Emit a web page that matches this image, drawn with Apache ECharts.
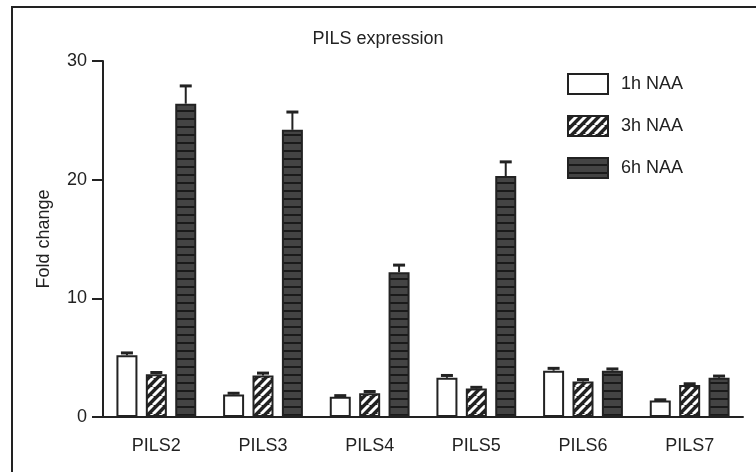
<!DOCTYPE html>
<html>
<head>
<meta charset="utf-8">
<script src="https://cdn.jsdelivr.net/npm/echarts@6/dist/echarts.min.js"></script>
<style>
  html, body { margin: 0; padding: 0; background: #fff; }
  #chart { width: 756px; height: 472px; }
</style>
</head>
<body>
<div id="chart"></div>
<script>
// 数据
const categories = ['PILS2', 'PILS3', 'PILS4', 'PILS5', 'PILS6', 'PILS7'];
const seriesNames = ['1h NAA', '3h NAA', '6h NAA'];
const values1h = [5.2, 1.9, 1.7, 3.3, 3.9, 1.4];
const values3h = [3.6, 3.5, 2.0, 2.4, 3.0, 2.7];
const values6h = [26.4, 24.2, 12.2, 20.3, 3.9, 3.3];
const errors1h = [0.2, 0.1, 0.1, 0.2, 0.2, 0.05];
const errors3h = [0.15, 0.2, 0.15, 0.1, 0.15, 0.1];
const errors6h = [1.5, 1.5, 0.6, 1.2, 0.15, 0.15];
const yTicks = [0, 10, 20, 30];

const INK = '#222';
const FONT = 18;
const barWidth = 21;
const barStep = 29.4;

// 斜线填充
function hatchPattern() {
  const c = document.createElement('canvas');
  c.width = 9; c.height = 9;
  const ctx = c.getContext('2d');
  ctx.fillStyle = INK;
  ctx.fillRect(0, 0, 9, 9);
  ctx.strokeStyle = '#fff';
  ctx.lineWidth = 3;
  ctx.beginPath();
  for (let k = -9; k <= 18; k += 9) {
    ctx.moveTo(k, 9);
    ctx.lineTo(k + 9, 0);
  }
  ctx.stroke();
  return { image: c, repeat: 'repeat' };
}

// 横线填充
function stripePattern() {
  const c = document.createElement('canvas');
  c.width = 4; c.height = 8;
  const ctx = c.getContext('2d');
  ctx.fillStyle = '#444';
  ctx.fillRect(0, 0, 4, 8);
  ctx.fillStyle = '#1a1a1a';
  ctx.fillRect(0, 6, 4, 2);
  return { image: c, repeat: 'repeat' };
}

const fills = ['#fff', hatchPattern(), stripePattern()];
const valueSets = [values1h, values3h, values6h];
const errorSets = [errors1h, errors3h, errors6h];

function barSeries(i) {
  return {
    name: seriesNames[i],
    type: 'bar',
    barWidth: barWidth,
    barGap: '40%',
    itemStyle: { color: fills[i], borderColor: INK, borderWidth: 2 },
    data: valueSets[i]
  };
}

function errorSeries(i) {
  return {
    type: 'custom',
    z: 5,
    silent: true,
    data: valueSets[i].map((v, k) => [k, v, v + errorSets[i][k]]),
    renderItem(params, api) {
      const lo = api.coord([api.value(0), api.value(1)]);
      const hi = api.coord([api.value(0), api.value(2)]);
      const x = lo[0] + (i - 1) * barStep;
      return {
        type: 'group',
        children: [
          { type: 'line', shape: { x1: x, y1: lo[1], x2: x, y2: hi[1] }, style: { stroke: INK, lineWidth: 2 } },
          { type: 'line', shape: { x1: x - 6, y1: hi[1], x2: x + 6, y2: hi[1] }, style: { stroke: INK, lineWidth: 3 } }
        ]
      };
    }
  };
}

const chart = echarts.init(document.getElementById('chart'), null, { renderer: 'canvas' });
chart.setOption({
  animation: false,
  backgroundColor: '#fff',
  textStyle: { fontFamily: 'Liberation Sans, Arial, sans-serif', color: INK },
  title: {
    text: 'PILS expression',
    left: 'center',
    top: 25,
    textStyle: { fontSize: FONT, fontWeight: 'normal', color: INK, fontFamily: 'Liberation Sans' }
  },
  legend: {
    orient: 'vertical',
    left: 562,
    top: 68,
    itemWidth: 40,
    itemHeight: 20,
    itemGap: 20,
    icon: 'rect',
    data: seriesNames,
    textStyle: { fontSize: FONT, color: INK, padding: [0, 0, 0, 8] }
  },
  grid: { left: 103, right: 13, top: 61, bottom: 55, containLabel: false },
  xAxis: {
    type: 'category',
    data: categories,
    axisLine: { lineStyle: { color: INK, width: 2 } },
    axisTick: { alignWithLabel: true, length: 10, lineStyle: { color: INK, width: 2 } },
    axisLabel: { fontSize: FONT, color: INK, margin: 20 }
  },
  yAxis: {
    type: 'value',
    min: yTicks[0],
    max: yTicks[yTicks.length - 1],
    interval: 10,
    name: 'Fold change',
    nameLocation: 'middle',
    nameGap: 50,
    nameTextStyle: { fontSize: FONT, color: INK },
    axisLine: { show: true, lineStyle: { color: INK, width: 2 } },
    axisTick: { show: true, length: 11, lineStyle: { color: INK, width: 2 } },
    axisLabel: { fontSize: FONT, color: INK, margin: 16 },
    splitLine: { show: false }
  },
  graphic: [{
    type: 'rect',
    shape: { x: 12, y: 7, width: 760, height: 480 },
    style: { fill: 'none', stroke: INK, lineWidth: 2 },
    silent: true
  }],
  series: [0, 1, 2].map(barSeries).concat([0, 1, 2].map(errorSeries))
});
</script>
</body>
</html>
